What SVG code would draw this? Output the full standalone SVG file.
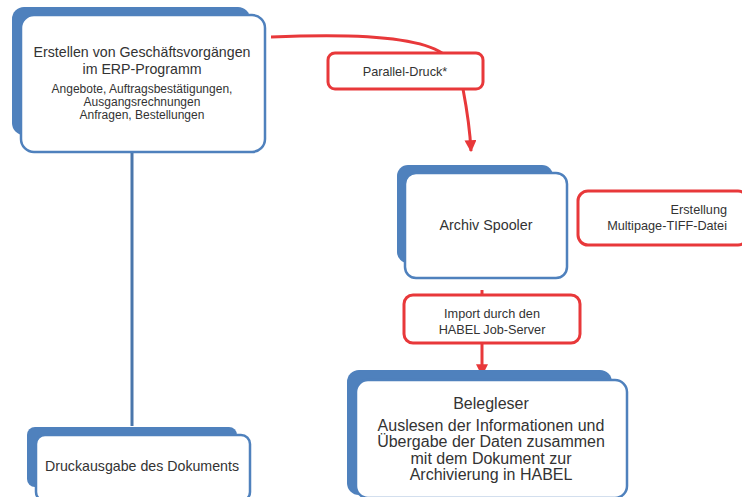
<svg xmlns="http://www.w3.org/2000/svg" width="742" height="497" viewBox="0 0 742 497">
<defs>
<style>
.back{fill:#4f81bd;}
.front{fill:#fff;stroke:#4f81bd;stroke-width:2.5;}
.red{fill:#fff;stroke:#e8383a;stroke-width:3;}
.t{font-family:"Liberation Sans",Arial,sans-serif;fill:#333;text-anchor:middle;}
.r{text-anchor:end;}
.conn{fill:none;stroke:#e8383a;stroke-width:3;}
</style>
<marker id="ah" viewBox="0 0 10 10" refX="9" refY="5" markerWidth="4" markerHeight="4" orient="auto" markerUnits="strokeWidth">
<path d="M0,0 L10,5 L0,10 z" fill="#e8383a"/>
</marker>
</defs>
<g id="connectors">
<line x1="132" y1="152" x2="132" y2="426" stroke="#4a76ab" stroke-width="3"/>
<path class="conn" d="M271,37 C360,33 420,38 442,53"/>
<path class="conn" d="M463,89 C467,110 470,130 471,151" marker-end="url(#ah)"/>
<line class="conn" x1="482" y1="290" x2="482" y2="295"/>
<line class="conn" x1="482" y1="343" x2="482" y2="375" marker-end="url(#ah)"/>
</g>
<g id="node-erp">
<rect class="back" x="12" y="7" width="238" height="128" rx="12"/>
<rect class="front" x="21" y="15" width="244" height="137" rx="13"/>
<text class="t" x="142" y="57" font-size="14.2">Erstellen von Geschäftsvorgängen</text>
<text class="t" x="142" y="74" font-size="14.2">im ERP-Programm</text>
<text class="t" x="142" y="92.5" font-size="12">Angebote, Auftragsbestätigungen,</text>
<text class="t" x="142" y="105.5" font-size="12">Ausgangsrechnungen</text>
<text class="t" x="142" y="118.5" font-size="12">Anfragen, Bestellungen</text>
</g>
<g id="node-parallel">
<rect class="red" x="328" y="53" width="155" height="36" rx="7"/>
<text class="t" x="405" y="76" font-size="12.7">Parallel-Druck*</text>
</g>
<g id="node-spooler">
<rect class="back" x="397" y="165" width="156" height="98" rx="11"/>
<rect class="front" x="405" y="173" width="162" height="105" rx="11"/>
<text class="t" x="486" y="230" font-size="14.3">Archiv Spooler</text>
</g>
<g id="node-tiff">
<rect class="red" x="578" y="191" width="170" height="54" rx="10"/>
<text class="t r" x="727" y="214" font-size="12.7">Erstellung</text>
<text class="t r" x="727" y="230" font-size="12.7">Multipage-TIFF-Datei</text>
</g>
<g id="node-import">
<rect class="red" x="404" y="295" width="176" height="48" rx="9"/>
<text class="t" x="492" y="318" font-size="12.7">Import durch den</text>
<text class="t" x="492" y="334" font-size="12.7">HABEL Job-Server</text>
</g>
<g id="node-belegleser">
<rect class="back" x="347" y="370" width="265" height="125" rx="12"/>
<rect class="front" x="356" y="380" width="271" height="118" rx="12"/>
<text class="t" x="491" y="409" font-size="16">Belegleser</text>
<text class="t" x="491" y="431" font-size="16">Auslesen der Informationen und</text>
<text class="t" x="491" y="447" font-size="16">Übergabe der Daten zusammen</text>
<text class="t" x="491" y="463.5" font-size="16">mit dem Dokument zur</text>
<text class="t" x="491" y="480" font-size="16">Archivierung in HABEL</text>
</g>
<g id="node-druck">
<rect class="back" x="27" y="427" width="210" height="60" rx="8"/>
<rect class="front" x="36" y="435" width="214" height="66" rx="9"/>
<text class="t" x="142" y="471" font-size="14.2">Druckausgabe des Dokuments</text>
</g>
</svg>
